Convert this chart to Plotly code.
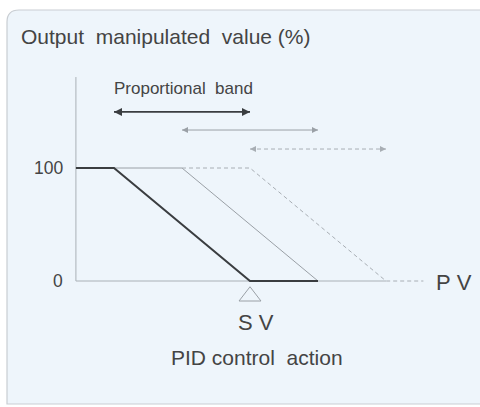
import plotly.graph_objects as go

# --------------------------- DATA ---------------------------
# PV measured in proportional-band units, SV at 0; output in %
axis_x = -2.56
sv = 0.0
band = 2.0
mv_levels = [100, 0]

black_x = [axis_x, -2.0, 0.0, 1.0]
black_y = [100, 100, 0, 0]

gray_x = [-2.0, -1.0, 1.0]
gray_y = [100, 100, 0]

dash_x = [-1.0, 0.0, 2.0, 2.55]
dash_y = [100, 100, 0, 0]

band_starts = [-2.0, -1.0, 0.0]
band_levels = [149.6, 133.6, 116.8]

tick_labels = ["100", "0"]

# --------------------------- FIGURE ---------------------------
W, H = 480, 407
PX_PER_UNIT = 68.0
PX_PER_PCT = 1.13
X0, Y0 = 250, 281   # pixel position of SV / 0 %

FONT = "Liberation Sans, Arial, sans-serif"
TXT = "#444444"

fig = go.Figure()

# axes drawn as lines
fig.add_trace(go.Scatter(x=[axis_x, axis_x, 2.0], y=[180.5, 0, 0], mode="lines",
                         line=dict(color="#a9b0b6", width=1), hoverinfo="skip"))

fig.add_trace(go.Scatter(x=gray_x, y=gray_y, mode="lines",
                         line=dict(color="#9aa0a6", width=1), hoverinfo="skip"))
fig.add_trace(go.Scatter(x=dash_x, y=dash_y, mode="lines",
                         line=dict(color="#a8aeb4", width=1, dash="4px,3px"), hoverinfo="skip"))
fig.add_trace(go.Scatter(x=black_x, y=black_y, mode="lines",
                         line=dict(color="#3a3d40", width=2), hoverinfo="skip"))

# proportional band arrows
band_styles = [
    dict(color="#3a3d40", width=1.8, dash="solid", size=8),
    dict(color="#9aa0a6", width=1, dash="solid", size=6),
    dict(color="#a8aeb4", width=1, dash="4px,3px", size=6),
]
for start, lvl, st in zip(band_starts, band_levels, band_styles):
    fig.add_trace(go.Scatter(
        x=[start, start + band], y=[lvl, lvl], mode="lines+markers",
        line=dict(color=st["color"], width=st["width"], dash=st["dash"]),
        marker=dict(symbol=["arrow-bar-left", "arrow-bar-right"], size=st["size"],
                    color=st["color"], line=dict(width=0)),
        hoverinfo="skip"))

# SV marker
fig.add_trace(go.Scatter(x=[sv], y=[-13.5], mode="markers",
                         marker=dict(symbol="triangle-up-open", size=19,
                                     color="#9aa0a6", line=dict(width=1)),
                         hoverinfo="skip"))

def ann(x, y, text, size, xanchor="center"):
    fig.add_annotation(x=x, y=y, text=text, showarrow=False, xanchor=xanchor,
                       yanchor="middle", font=dict(family=FONT, size=size, color=TXT))

ann(-3.39, 216, "Output\u00a0 manipulated\u00a0 value (%)", 21, "left")
ann(-0.98, 170.5, "Proportional\u00a0 band", 17)
for lvl, lab in zip(mv_levels, tick_labels):
    ann(-2.72, lvl, lab, 17.5, "right")
ann(2.7, -1.5, "P\u00a0V", 22, "left")
ann(0.09, -36.5, "S\u00a0V", 22)
ann(0.1, -68, "PID control\u00a0 action", 21)

# background card with rounded corners (paper coords)
def px(x):
    return x / W

def py(y):
    return 1 - y / H

r = 12
path = (f"M {px(7)},{py(404)} L {px(7)},{py(10 + r)} "
        f"Q {px(7)},{py(10)} {px(7 + r)},{py(10)} L {px(490)},{py(10)} "
        f"L {px(490)},{py(404)} Z")
fig.add_shape(type="path", path=path, xref="paper", yref="paper",
              fillcolor="#eef5fb", line=dict(color="#c9ced3", width=1.2), layer="below")

fig.update_layout(
    width=W, height=H,
    margin=dict(l=0, r=0, t=0, b=0),
    paper_bgcolor="white",
    plot_bgcolor="rgba(0,0,0,0)",
    showlegend=False,
    xaxis=dict(range=[-X0 / PX_PER_UNIT, (W - X0) / PX_PER_UNIT], visible=False, fixedrange=True),
    yaxis=dict(range=[-(H - Y0) / PX_PER_PCT, Y0 / PX_PER_PCT], visible=False, fixedrange=True),
)

fig.write_html("out.html", config={"displayModeBar": False},
               post_script="document.body.style.margin='0';")
